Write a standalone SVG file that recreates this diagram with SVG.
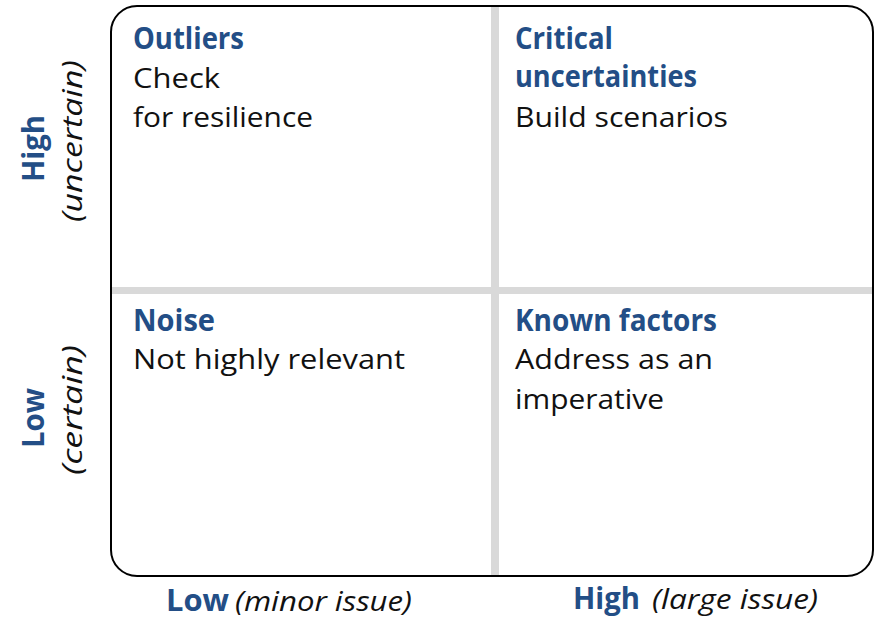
<svg xmlns="http://www.w3.org/2000/svg" width="875" height="628" viewBox="0 0 875 628">
<style>
text,tspan{font-family:"Open Sans",Lato,sans-serif}
.t{font-size:30px;fill:#234e86;font-weight:700}
.b{font-size:28px;fill:#111}
.i{font-size:27px;fill:#111;font-style:italic}
.ax{font-size:30px;fill:#234e86;font-weight:700}
.div{fill:#d9d9d9}
</style>
<rect x="0" y="0" width="875" height="628" fill="#fff"/>
<g id="frame">
<rect x="111" y="6" width="762" height="570" rx="26" fill="#fff" stroke="#000" stroke-width="2"/>
</g>
<g id="connectors">
<rect class="div" x="491" y="7" width="8" height="568"/>
<rect class="div" x="112" y="287" width="760" height="7"/>
</g>
<g id="q-outliers">
<text class="t" x="133" y="49" textLength="111" lengthAdjust="spacingAndGlyphs">Outliers</text>
<text class="b" x="133" y="88" textLength="87" lengthAdjust="spacingAndGlyphs">Check</text>
<text class="b" x="133" y="127" textLength="180" lengthAdjust="spacingAndGlyphs">for resilience</text>
</g>
<g id="q-critical">
<text class="t" x="515" y="49" textLength="98" lengthAdjust="spacingAndGlyphs">Critical</text>
<text class="t" x="515" y="87" textLength="182" lengthAdjust="spacingAndGlyphs">uncertainties</text>
<text class="b" x="515" y="127" textLength="213" lengthAdjust="spacingAndGlyphs">Build scenarios</text>
</g>
<g id="q-noise">
<text class="t" x="133" y="331" textLength="82" lengthAdjust="spacingAndGlyphs">Noise</text>
<text class="b" x="133" y="369" textLength="272" lengthAdjust="spacingAndGlyphs">Not highly relevant</text>
</g>
<g id="q-known">
<text class="t" x="515" y="331" textLength="202" lengthAdjust="spacingAndGlyphs">Known factors</text>
<text class="b" x="515" y="369" textLength="198" lengthAdjust="spacingAndGlyphs">Address as an</text>
<text class="b" x="515" y="409" textLength="149" lengthAdjust="spacingAndGlyphs">imperative</text>
</g>
<g id="y-high">
<text class="ax" transform="translate(44,182) rotate(-90)" textLength="67" lengthAdjust="spacingAndGlyphs">High</text>
<text class="i" transform="translate(82,222) rotate(-90)" textLength="162" lengthAdjust="spacingAndGlyphs">(uncertain)</text>
</g>
<g id="y-low">
<text class="ax" transform="translate(44,448) rotate(-90)" textLength="60" lengthAdjust="spacingAndGlyphs">Low</text>
<text class="i" transform="translate(82,475) rotate(-90)" textLength="130" lengthAdjust="spacingAndGlyphs">(certain)</text>
</g>
<g id="x-low">
<text class="ax" x="166" y="611" textLength="63" lengthAdjust="spacingAndGlyphs">Low</text>
<text class="i" x="235" y="611" textLength="177" lengthAdjust="spacingAndGlyphs">(minor issue)</text>
</g>
<g id="x-high">
<text class="ax" x="573" y="609" textLength="67" lengthAdjust="spacingAndGlyphs">High</text>
<text class="i" x="652" y="609" textLength="166" lengthAdjust="spacingAndGlyphs">(large issue)</text>
</g>
</svg>
